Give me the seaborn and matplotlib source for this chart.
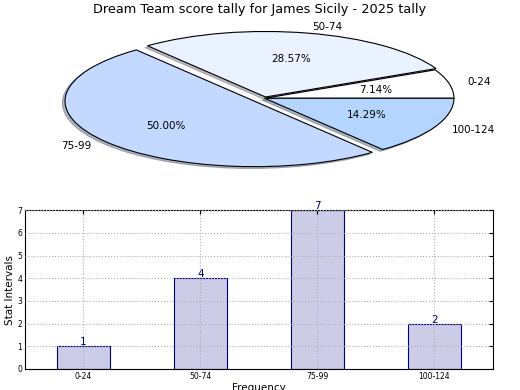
import matplotlib
matplotlib.use("Agg")
import matplotlib.pyplot as plt
import seaborn as sns
import pandas as pd

intervals = ["0-24", "50-74", "75-99", "100-124"]
counts = [1, 4, 7, 2]
pie_colors = ["#ffffff", "#eaf1ff", "#c4d9ff", "#b3d5ff"]
explode = [0, 0.02, 0.07, 0]

sns.set_style("white")
plt.rcParams["font.family"] = ["DejaVu Sans"]
plt.rcParams["text.color"] = "black"
plt.rcParams["axes.labelcolor"] = "black"
plt.rcParams["xtick.color"] = "black"
plt.rcParams["ytick.color"] = "black"

fig = plt.figure(figsize=(5.2, 3.9), dpi=100)

# pie on top, squashed like the original (no equal aspect)
ax1 = fig.add_axes([0.054, 0.538, 0.91, 0.42])
wedges, texts, autotexts = ax1.pie(
    counts, labels=intervals, colors=pie_colors, explode=explode,
    autopct="%.2f%%", shadow={"ox": -0.01, "oy": -0.02, "shade": 0.5}, startangle=0,
    wedgeprops={"edgecolor": "black", "linewidth": 0.8},
    textprops={"fontsize": 7.5},
)
ax1.set_aspect("auto")
ax1.set_title("Dream Team score tally for James Sicily - 2025 tally", fontsize=9.3, pad=1, x=0.49)

# bar chart below
df = pd.DataFrame({"interval": intervals, "count": counts})
ax2 = fig.add_axes([0.048, 0.054, 0.9, 0.407])
sns.barplot(data=df, x="interval", y="count", ax=ax2, color="#ccccE6",
            edgecolor="#000080", linewidth=0.8, width=0.45, saturation=1)
for i, v in enumerate(counts):
    ax2.text(i, v - 0.05, str(v), color="#000080", ha="center", va="bottom", fontsize=7.5)
ax2.set_ylim(0, 7)
ax2.set_xlim(-0.5, 3.5)
ax2.set_yticks(range(8))
ax2.grid(True, linestyle=":", color="#b0b0b0", linewidth=0.8)
ax2.set_axisbelow(False)
ax2.tick_params(direction="in", top=True, right=True, labelsize=5.5, length=3, pad=2)
for s in ax2.spines.values():
    s.set_color("black")
    s.set_linewidth(0.8)
ax2.set_ylabel("Stat Intervals", fontsize=7.5, labelpad=2)
ax2.set_xlabel("Frequency", fontsize=7.5, labelpad=2)

fig.savefig("out.png", dpi=100)
